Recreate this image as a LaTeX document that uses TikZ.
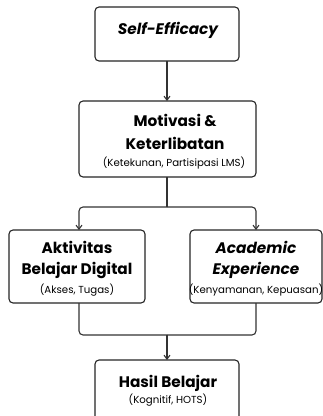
\documentclass[tikz,border=0pt]{standalone}
\usepackage{fontspec}
\setmainfont{Poppins}
\usetikzlibrary{arrows.meta}
\begin{document}
\begin{tikzpicture}[x=1pt,y=-1pt,
  box/.style={draw=black!85,line width=1.1pt,rounded corners=4pt,fill=white},
  head/.style={font=\fontsize{15.3}{18}\selectfont\bfseries,inner sep=0pt},
  sub/.style={font=\fontsize{10.2}{12}\selectfont,inner sep=0pt},
  conn/.style={draw=black!80,line width=1.1pt,rounded corners=4pt},
  arr/.style={conn,-{Straight Barb[length=4pt,width=6pt]}}]
\useasboundingbox (0,0) rectangle (323,416);
\fill[white] (0,0) rectangle (323,416);
% boxes
\draw[box] (95,7) rectangle (239,61);
\node[head] (se) at (168,30) {\itshape Self-Efficacy};
\draw[box] (79,101) rectangle (256,177);
\node[head] (m1) at (175,120) {Motivasi \&};
\node[head] (m2) at (175,143) {Keterlibatan};
\node[sub] (m3) at (174,163) {(Ketekunan, Partisipasi LMS)};
\draw[box] (9,230) rectangle (145,303);
\node[head] (a1) at (77,247) {Aktivitas};
\node[head] (a2) at (77,270) {Belajar Digital};
\node[sub] (a3) at (77,290) {(Akses, Tugas)};
\draw[box] (190,230) rectangle (322,303);
\node[head] (b1) at (256,247) {\itshape Academic};
\node[head] (b2) at (256,270) {\itshape Experience};
\node[sub] (b3) at (256,290) {(Kenyamanan, Kepuasan)};
\draw[box] (95,360) rectangle (239,425);
\node[head] (h1) at (168,383) {Hasil Belajar};
\node[sub] (h2) at (168,400) {(Kognitif, HOTS)};
% named connector points
\coordinate (seb) at (167,61);
\coordinate (mt) at (167,101);
\coordinate (mb) at (167,177);
\coordinate (split) at (167,207);
\coordinate (at) at (79,230);
\coordinate (bt) at (256,230);
\coordinate (ab) at (79,303);
\coordinate (bb) at (256,303);
\coordinate (join) at (167,335);
\coordinate (ht) at (167,360);
\draw[arr] (seb) -- (mt);
\draw[conn] (mb) -- (split);
\draw[arr] (split) -| (at);
\draw[arr] (split) -| (bt);
\draw[conn] (ab) |- (join);
\draw[conn] (bb) |- (join);
\draw[arr] (join) -- (ht);
\end{tikzpicture}
\end{document}
